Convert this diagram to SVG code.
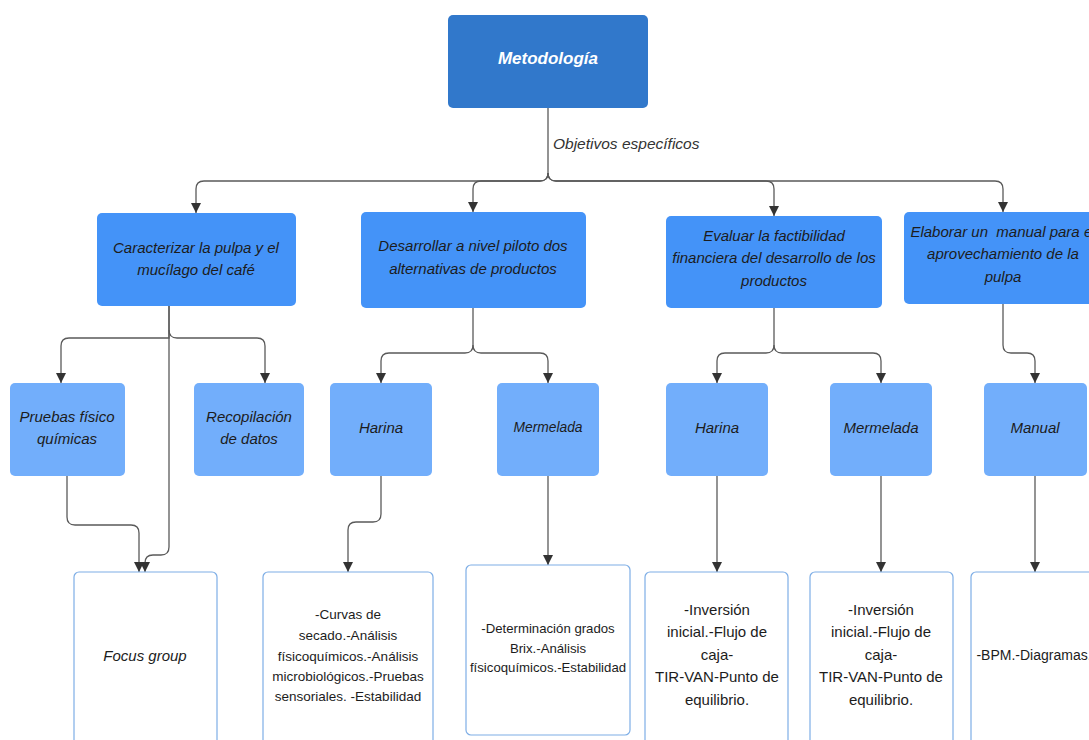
<svg xmlns="http://www.w3.org/2000/svg" width="1089" height="740" viewBox="0 0 1089 740">
  <defs>
    <marker id="arrow" markerUnits="userSpaceOnUse" markerWidth="10" markerHeight="12" refX="5" refY="11" orient="auto-start-reverse" viewBox="0 0 10 12">
      <path d="M0,0 L10,0 L5,11 Z" transform="rotate(0)" fill="#333333"/>
    </marker>
    <marker id="tip" markerUnits="userSpaceOnUse" markerWidth="10" markerHeight="11" refX="10" refY="5" orient="auto">
      <path d="M0,0 L10,5 L0,10 Z" fill="#333333"/>
    </marker>
    <style>
      .root { fill: #3178CB; }
      .obj { fill: #4493F8; }
      .sub { fill: #72AEFB; }
      .leaf { fill: #FFFFFF; stroke: #7EAEE6; stroke-width: 1.2; }
      .conn { fill: none; stroke: #5a5a5a; stroke-width: 1.3; }
      text { font-family: "Liberation Sans", Arial, sans-serif; text-anchor: middle; fill: #1c1c1c; }
      .it { font-style: italic; font-size: 15px; }
      .title { font-style: italic; font-weight: bold; font-size: 17px; fill: #FFFFFF; }
      .lbl { font-style: italic; font-size: 15.5px; fill: #333333; text-anchor: start; }
      .pre { white-space: pre; }
    </style>
  </defs>

  <!-- connectors -->
  <g id="connectors">
    <!-- Metodología to objectives -->
    <path class="conn" marker-end="url(#tip)" d="M548,108 V173 Q548,181 540,181 H204 Q196,181 196,189 V213"/>
    <path class="conn" marker-end="url(#tip)" d="M548,173 Q548,181 540,181 H481 Q473,181 473,189 V212"/>
    <path class="conn" marker-end="url(#tip)" d="M548,173 Q548,181 556,181 H766 Q774,181 774,189 V216"/>
    <path class="conn" marker-end="url(#tip)" d="M548,173 Q548,181 556,181 H995 Q1003,181 1003,189 V212"/>
    <!-- Caracterizar branch -->
    <path class="conn" marker-end="url(#tip)" d="M169,306 V338 H69 Q61,338 61,346 V383"/>
    <path class="conn" marker-end="url(#tip)" d="M169,330 Q169,338 177,338 H257 Q265,338 265,346 V383"/>
    <path class="conn" marker-end="url(#tip)" d="M169,306 V547 Q169,555 161,555 H153 Q145,555 145,563 V572"/>
    <path class="conn" marker-end="url(#tip)" d="M67,476 V517 Q67,525 75,525 H131 Q139,525 139,533 V572"/>
    <!-- Desarrollar branch -->
    <path class="conn" marker-end="url(#tip)" d="M473,308 V345 Q473,353 465,353 H389 Q381,353 381,361 V383"/>
    <path class="conn" marker-end="url(#tip)" d="M473,345 Q473,353 481,353 H540 Q548,353 548,361 V383"/>
    <!-- Evaluar branch -->
    <path class="conn" marker-end="url(#tip)" d="M774,308 V345 Q774,353 766,353 H725 Q717,353 717,361 V383"/>
    <path class="conn" marker-end="url(#tip)" d="M774,345 Q774,353 782,353 H873 Q881,353 881,361 V383"/>
    <!-- Elaborar branch -->
    <path class="conn" marker-end="url(#tip)" d="M1003,304 V345 Q1003,353 1011,353 H1027 Q1035,353 1035,361 V383"/>
    <!-- product to activities -->
    <path class="conn" marker-end="url(#tip)" d="M381,476 V514 Q381,522 373,522 H356 Q348,522 348,530 V572"/>
    <path class="conn" marker-end="url(#tip)" d="M548,476 V565"/>
    <path class="conn" marker-end="url(#tip)" d="M717,476 V572"/>
    <path class="conn" marker-end="url(#tip)" d="M881,476 V572"/>
    <path class="conn" marker-end="url(#tip)" d="M1035,476 V572"/>
    <text class="lbl" x="553" y="149">Objetivos específicos</text>
  </g>

  <!-- root -->
  <g id="metodologia">
    <rect class="root" x="448" y="15" width="200" height="93" rx="5"/>
    <text class="title" x="548" y="64">Metodología</text>
  </g>

  <!-- objectives -->
  <g id="caracterizar">
    <rect class="obj" x="97" y="213" width="199" height="93" rx="5"/>
    <text class="it" x="196" y="253">Caracterizar la pulpa y el</text>
    <text class="it" x="196" y="275">mucílago del café</text>
  </g>
  <g id="desarrollar">
    <rect class="obj" x="361" y="212" width="225" height="96" rx="5"/>
    <text class="it" x="473" y="251">Desarrollar a nivel piloto dos</text>
    <text class="it" x="473" y="274">alternativas de productos</text>
  </g>
  <g id="evaluar">
    <rect class="obj" x="666" y="216" width="216" height="92" rx="5"/>
    <text class="it" x="774" y="241">Evaluar la factibilidad</text>
    <text class="it" x="774" y="263">financiera del desarrollo de los</text>
    <text class="it" x="774" y="286">productos</text>
  </g>
  <g id="elaborar">
    <rect class="obj" x="904" y="212" width="200" height="92" rx="5"/>
    <text class="it pre" x="1003" y="237">Elaborar un  manual para el</text>
    <text class="it" x="1003" y="259">aprovechamiento de la</text>
    <text class="it" x="1003" y="282">pulpa</text>
  </g>

  <!-- sub-tasks -->
  <g id="pruebas">
    <rect class="sub" x="10" y="383" width="115" height="93" rx="5"/>
    <text class="it" x="67" y="422">Pruebas físico</text>
    <text class="it" x="67" y="444">químicas</text>
  </g>
  <g id="recopilacion">
    <rect class="sub" x="194" y="383" width="110" height="93" rx="5"/>
    <text class="it" x="249" y="422">Recopilación</text>
    <text class="it" x="249" y="444">de datos</text>
  </g>
  <g id="harina-1">
    <rect class="sub" x="330" y="383" width="102" height="93" rx="5"/>
    <text class="it" x="381" y="433">Harina</text>
  </g>
  <g id="mermelada-1">
    <rect class="sub" x="497" y="383" width="102" height="93" rx="5"/>
    <text class="it" x="548" y="432" style="font-size:13.8px">Mermelada</text>
  </g>
  <g id="harina-2">
    <rect class="sub" x="666" y="383" width="102" height="93" rx="5"/>
    <text class="it" x="717" y="433">Harina</text>
  </g>
  <g id="mermelada-2">
    <rect class="sub" x="830" y="383" width="102" height="93" rx="5"/>
    <text class="it" x="881" y="433">Mermelada</text>
  </g>
  <g id="manual">
    <rect class="sub" x="984" y="383" width="103" height="93" rx="5"/>
    <text class="it" x="1035" y="433">Manual</text>
  </g>

  <!-- activities -->
  <g id="focus-group">
    <rect class="leaf" x="74" y="572" width="143" height="180" rx="5"/>
    <text class="it" x="145" y="661">Focus group</text>
  </g>
  <g id="curvas" style="font-size:13.5px">
    <rect class="leaf" x="263" y="572" width="170" height="180" rx="5"/>
    <text x="348" y="619" font-size="13.5">-Curvas de</text>
    <text x="348" y="640" font-size="13.5">secado.-Análisis</text>
    <text x="348" y="661" font-size="13.5">físicoquímicos.-Análisis</text>
    <text x="348" y="681" font-size="13.5">microbiológicos.-Pruebas</text>
    <text x="348" y="701" font-size="13.5">sensoriales. -Estabilidad</text>
  </g>
  <g id="determinacion">
    <rect class="leaf" x="466" y="565" width="164" height="170" rx="5"/>
    <text x="548" y="633" font-size="13.2">-Determinación grados</text>
    <text x="548" y="653" font-size="13.2">Brix.-Análisis</text>
    <text x="548" y="672" font-size="13.2">físicoquímicos.-Estabilidad</text>
  </g>
  <g id="inversion-1">
    <rect class="leaf" x="645" y="572" width="143" height="180" rx="5"/>
    <text x="717" y="615" font-size="15">-Inversión</text>
    <text x="717" y="637" font-size="15">inicial.-Flujo de</text>
    <text x="717" y="660" font-size="15">caja-</text>
    <text x="717" y="682" font-size="15">TIR-VAN-Punto de</text>
    <text x="717" y="705" font-size="15">equilibrio.</text>
  </g>
  <g id="inversion-2">
    <rect class="leaf" x="810" y="572" width="143" height="180" rx="5"/>
    <text x="881" y="615" font-size="15">-Inversión</text>
    <text x="881" y="637" font-size="15">inicial.-Flujo de</text>
    <text x="881" y="660" font-size="15">caja-</text>
    <text x="881" y="682" font-size="15">TIR-VAN-Punto de</text>
    <text x="881" y="705" font-size="15">equilibrio.</text>
  </g>
  <g id="bpm">
    <rect class="leaf" x="971" y="572" width="140" height="180" rx="5"/>
    <text x="1034" y="660" font-size="14">-BPM.-Diagramas.</text>
  </g>
</svg>
